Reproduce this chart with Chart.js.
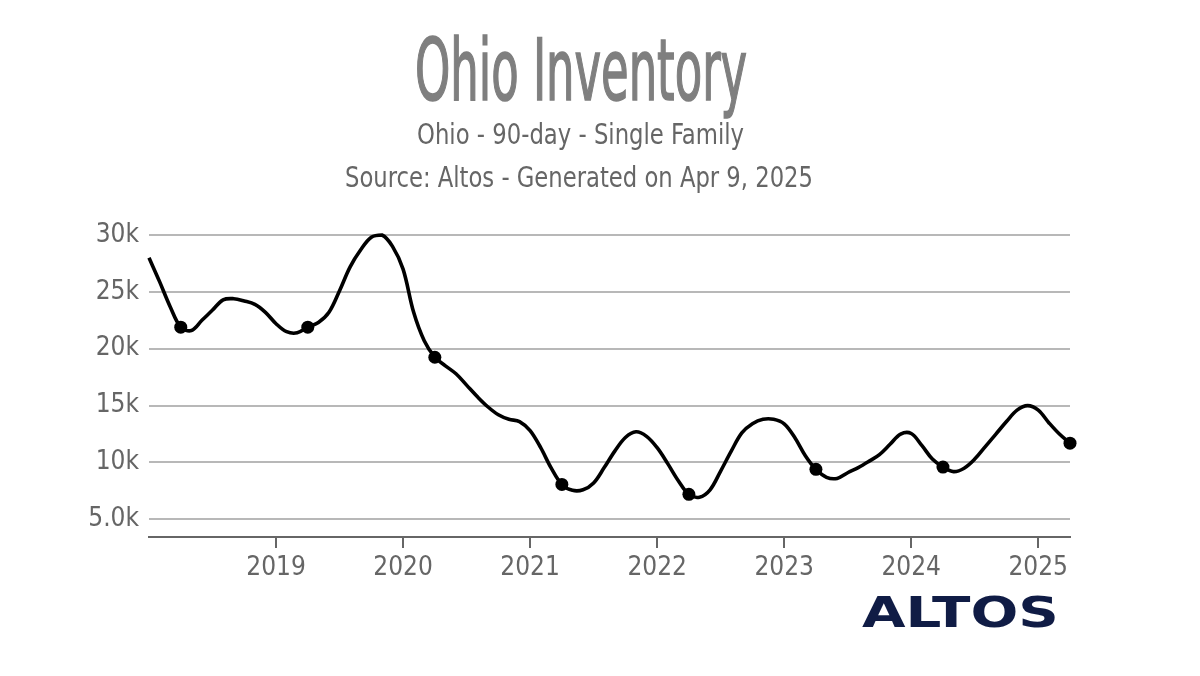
<!DOCTYPE html>
<html>
<head>
<meta charset="utf-8">
<script src="https://cdn.jsdelivr.net/npm/chart.js@4.4.1/dist/chart.umd.min.js"></script>
<style>
html,body{margin:0;padding:0;background:#fff;width:1200px;height:676px;overflow:hidden}
#wrap{position:relative;width:1200px;height:676px}
#c{position:absolute;left:0;top:0}
.t{position:absolute;line-height:1;white-space:nowrap;transform-origin:0 0;
   font-family:'Liberation Sans Narrow','DejaVu Sans Condensed','Liberation Sans',sans-serif}
#logo{font-family:'DejaVu Sans',sans-serif;font-weight:bold;color:#101c45}
</style>
</head>
<body>
<div id="wrap">
  <canvas id="c" width="1200" height="676"></canvas>
  <div class="t" data-w="332" data-cx="581" style="top:28px;font-size:85px;color:#7f7f7f;-webkit-text-stroke:1.6px #7f7f7f">Ohio Inventory</div>
  <div class="t" data-w="327" data-cx="580" style="top:120px;font-size:29px;color:#666">Ohio - 90-day - Single Family</div>
  <div class="t" data-w="468" data-cx="579" style="top:163px;font-size:29px;color:#666">Source: Altos - Generated on Apr 9, 2025</div>
  <div class="t" id="logo" data-w="197" data-cx="960" style="top:592px;font-size:42px">ALTOS</div>
</div>
<script>
// ---- data ----
const months = [
  '2018-01','2018-02','2018-03','2018-04','2018-05','2018-06','2018-07','2018-08','2018-09','2018-10','2018-11','2018-12',
  '2019-01','2019-02','2019-03','2019-04','2019-05','2019-06','2019-07','2019-08','2019-09','2019-10','2019-11','2019-12',
  '2020-01','2020-02','2020-03','2020-04','2020-05','2020-06','2020-07','2020-08','2020-09','2020-10','2020-11','2020-12',
  '2021-01','2021-02','2021-03','2021-04','2021-05','2021-06','2021-07','2021-08','2021-09','2021-10','2021-11','2021-12',
  '2022-01','2022-02','2022-03','2022-04','2022-05','2022-06','2022-07','2022-08','2022-09','2022-10','2022-11','2022-12',
  '2023-01','2023-02','2023-03','2023-04','2023-05','2023-06','2023-07','2023-08','2023-09','2023-10','2023-11','2023-12',
  '2024-01','2024-02','2024-03','2024-04','2024-05','2024-06','2024-07','2024-08','2024-09','2024-10','2024-11','2024-12',
  '2025-01','2025-02','2025-03','2025-04'
];
const inventory = [
  28000,25900,23700,21900,21600,22500,23400,24300,24400,24200,23900,23200,
  22200,21500,21400,21900,22300,23200,25100,27200,28700,29800,30000,29000,
  27000,23200,20700,19250,18500,17800,16800,15800,14900,14200,13800,13600,
  12800,11300,9500,8070,7550,7600,8200,9550,11000,12200,12700,12300,
  11300,9900,8400,7200,6950,7600,9250,11000,12600,13400,13800,13800,
  13400,12200,10600,9400,8700,8600,9100,9550,10100,10700,11600,12500,
  12550,11500,10300,9600,9200,9500,10300,11400,12500,13600,14600,15000,
  14600,13500,12500,11700
];
const markerMonth = 4; // April points are marked
const yearTicks = [2019,2020,2021,2022,2023,2024,2025];
const valueTicks = [5000,10000,15000,20000,25000,30000];
const xMin = 2018.0, xMax = 2025.25, yMin = 3450, yMax = 30000;

// ---- build ----
const toYear = s => { const [y,m] = s.split('-').map(Number); return y + (m-1)/12; };
const points = months.map((m,i) => ({x: toYear(m), y: inventory[i]}));
const radii = months.map(m => Number(m.split('-')[1]) === markerMonth ? 6.5 : 0);

const FONT = "'Liberation Sans Narrow','DejaVu Sans Condensed','Liberation Sans',sans-serif";
Chart.defaults.font.family = FONT;

new Chart(document.getElementById('c'), {
  type: 'line',
  data: { datasets: [{
    data: points,
    borderColor: '#000', backgroundColor: '#000',
    borderWidth: 3.6,
    pointRadius: radii, pointHoverRadius: radii,
    pointBackgroundColor: '#000', pointBorderWidth: 0,
    tension: 0.35,
    clip: false
  }]},
  options: {
    responsive: false, animation: false, devicePixelRatio: 1,
    layout: { padding: { top: 235, right: 130, bottom: 89, left: 0 } },
    plugins: { legend: { display: false }, tooltip: { enabled: false } },
    scales: {
      x: {
        type: 'linear', min: xMin, max: xMax,
        afterBuildTicks: s => { s.ticks = yearTicks.map(v => ({value: v})); },
        afterFit: s => { s.height = 50; },
        grid: { drawOnChartArea: false, drawTicks: true, tickLength: 11, color: '#666', lineWidth: 2 },
        border: { display: true, color: '#666', width: 2 },
        ticks: { color: '#666', font: { size: 26 }, padding: 5, maxRotation: 0, autoSkip: false,
                 callback: v => String(v) }
      },
      y: {
        min: yMin, max: yMax,
        afterBuildTicks: s => { s.ticks = valueTicks.map(v => ({value: v})); },
        afterFit: s => { s.width = 149; },
        grid: { color: '#b8b8b8', lineWidth: 2, drawTicks: false },
        border: { display: false },
        ticks: { color: '#666', font: { size: 26 }, padding: 10,
                 callback: v => Number((v/1000).toPrecision(2)).toFixed(v < 10000 ? 1 : 0) + 'k' }
      }
    }
  }
});

// fit header / logo text widths to the reference's condensed/extended lettering
document.querySelectorAll('.t').forEach(el => {
  const w = el.offsetWidth, target = +el.dataset.w, cx = +el.dataset.cx;
  el.style.left = (cx - target/2) + 'px';
  el.style.transform = 'scaleX(' + (target / w) + ')';
});
</script>
</body>
</html>
